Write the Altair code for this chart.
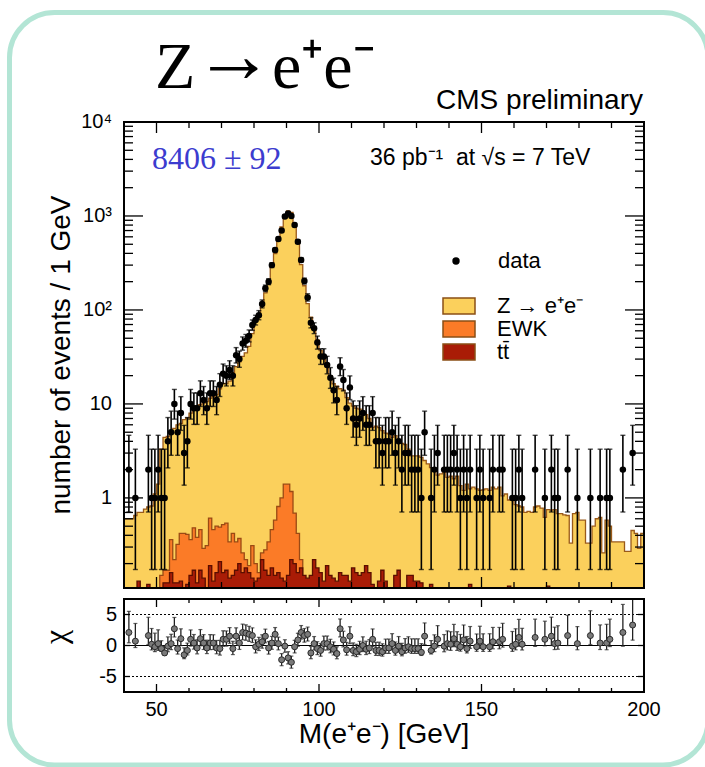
import altair as alt
import numpy as np
import pandas as pd

# ---------------- data ----------------
bin_low = list(range(40, 200))  # 1 GeV bins, lower edges

data_counts = [
    0, 2, 0, 1, 0, 0, 0, 2, 1, 1,
    2, 1, 1, 4, 5, 10, 5, 8, 3, 4,
    10, 9, 9, 13, 11, 9, 13, 13, 11, 16,
    21, 20, 23, 20, 33, 30, 44, 47, 53, 69,
    78, 88, 116, 170, 200, 300, 434, 570, 700, 985,
    1065, 1000, 803, 533, 341, 203, 136, 73, 64, 45,
    32, 32, 26, 19, 14, 11, 25, 18, 9, 15,
    7, 6, 7, 8, 6, 6, 8, 4, 4, 3,
    4, 4, 5, 3, 4, 2, 3, 3, 2, 2,
    2, 1, 5, 0, 1, 2, 3, 0, 2, 2,
    2, 3, 2, 1, 2, 1, 2, 0, 1, 2,
    1, 0, 1, 2, 0, 2, 2, 0, 0, 1,
    1, 2, 1, 0, 0, 0, 2, 0, 0, 1,
    0, 2, 1, 1, 0, 0, 2, 0, 0, 1,
    0, 0, 0, 1, 0, 0, 1, 0, 1, 1,
    0, 0, 0, 2, 0, 0, 3, 0, 0, 0,
]

# top of the stacked MC (Z->ee + EWK + ttbar)
mc_total = [
    0.60, 0.60, 0.60, 0.65, 0.70, 0.70, 0.76, 0.80, 0.82, 1.10,
    1.40, 3.3, 4.4, 4.5, 5.0, 5.5, 6.0, 6.2, 6.8, 7.1,
    8.0, 9.0, 9.6, 9.8, 10.2, 10.6, 11.5, 12.0, 12.6, 14.5,
    16.5, 16.5, 17.5, 21.5, 25.0, 28.0, 32.0, 35.0, 41.0, 56.0,
    78, 86, 110, 152, 205, 293, 398, 563, 763, 988,
    1130, 1089, 809, 512, 304, 181, 117, 84, 62, 48,
    37, 30, 24.5, 20, 16.4, 15.5, 14.5, 14.0, 11.7, 10.2,
    9.5, 9.0, 8.8, 8.0, 7.7, 7.0, 5.6, 5.8, 5.6, 5.2,
    4.9, 4.8, 4.4, 4.6, 4.2, 3.8, 3.7, 3.3, 2.8, 2.8,
    2.8, 2.7, 2.5, 2.3, 2.1, 2.1, 1.75, 1.8, 2.0, 1.65,
    1.7, 1.6, 1.7, 1.35, 1.2, 1.4, 1.25, 1.3, 1.25, 1.2,
    1.22, 1.25, 1.2, 1.3, 1.25, 1.3, 1.05, 1.1, 0.95, 0.95,
    0.85, 0.82, 0.80, 0.70, 0.72, 0.70, 0.80, 0.82, 0.78, 0.62,
    0.75, 0.74, 0.75, 0.68, 0.68, 0.66, 0.65, 0.33, 0.68, 0.70,
    0.58, 0.58, 0.33, 0.33, 0.50, 0.60, 0.62, 0.26, 0.58, 0.50,
    0.34, 0.34, 0.34, 0.34, 0.27, 0.27, 0.45, 0.42, 0.29, 0.42,
]

# top of EWK + ttbar
mc_ewk_tt = [
    0, 0, 0, 0, 0, 0, 0, 0, 0, 0,
    0, 0.15, 0.17, 0.17, 0.36, 0.22, 0.32, 0.42, 0.42, 0.41,
    0.36, 0.48, 0.38, 0.46, 0.29, 0.31, 0.61, 0.46, 0.50, 0.49,
    0.52, 0.54, 0.34, 0.42, 0.34, 0.37, 0.26, 0.22, 0.19, 0.31,
    0.20, 0.16, 0.26, 0.28, 0.34, 0.46, 0.58, 0.81, 1.00, 1.40,
    1.40, 1.17, 0.69, 0.42, 0.22, 0, 0, 0, 0, 0,
] + [0] * 100

# ttbar alone
mc_tt = [
    0, 0, 0, 0, 0.13, 0, 0, 0.12, 0, 0,
    0, 0, 0.125, 0.125, 0.16, 0.125, 0.125, 0.13, 0, 0.12,
    0.15, 0.17, 0.125, 0.17, 0.14, 0, 0.19, 0.13, 0.16, 0.21,
    0.16, 0.17, 0.14, 0.15, 0.17, 0.20, 0.16, 0.18, 0.16, 0.14,
    0.13, 0.14, 0.22, 0.17, 0.15, 0.18, 0.15, 0.16, 0.14, 0.13,
    0.15, 0.22, 0.20, 0.16, 0.18, 0.15, 0.14, 0.15, 0.22, 0.18,
    0.16, 0.13, 0.19, 0.15, 0.14, 0.13, 0.16, 0.15, 0.15, 0.13,
    0.18, 0.16, 0.15, 0.16, 0.19, 0.16, 0.12, 0, 0.13, 0.17,
    0.13, 0, 0, 0.15, 0.17, 0, 0, 0.15, 0.15, 0.13,
    0.13, 0.125, 0, 0, 0.12, 0, 0, 0, 0, 0,
    0, 0, 0, 0, 0, 0, 0.12, 0, 0, 0,
    0, 0, 0, 0, 0, 0, 0, 0, 0.115, 0,
    0, 0, 0, 0, 0, 0, 0, 0, 0, 0,
    0.115, 0, 0, 0, 0, 0, 0, 0, 0, 0,
    0, 0, 0, 0, 0, 0, 0, 0, 0, 0,
    0, 0, 0, 0, 0, 0, 0, 0, 0, 0,
]

N = None
chi_values = [
    N, 2.1, N, 0.7, N, N, N, 1.6, 0.2, -0.2,
    0.3, -0.5, -1.2, -0.1, 0.3, 2.7, -0.5, 1.1, -1.5, -0.8,
    1.0, 0.4, -0.4, 1.1, 0.4, -0.4, 0.4, 0.4, -0.4, -0.5,
    1.0, 1.0, 1.5, -0.5, 1.5, 0.4, 2.1, 2.0, 1.8, 1.6,
    -0.2, 0.2, 0.6, 1.5, -0.4, 0.4, 1.8, 0.3, -2.3, -0.1,
    -2.0, -2.7, -0.2, 0.9, 2.1, 1.6, 1.8, -1.2, 0.3, -0.5,
    -0.8, 0.3, 0.3, -0.2, -0.6, -1.3, 2.7, 0.9, -0.7, 1.5,
    -0.8, -1.0, -0.6, 0.0, -0.6, -0.4, 1.0, -0.8, -0.8, -1.0,
    -0.4, -0.4, 0.3, -0.8, -0.1, -1.0, -0.4, -0.2, -0.5, -0.5,
    -0.5, -1.1, 1.5, N, -0.8, -0.1, 1.0, N, -0.1, 0.3,
    0.2, 1.1, 0.2, -0.2, 0.9, -0.5, 0.7, N, -0.2, 0.7,
    -0.2, N, -0.2, 0.6, N, 0.6, 1.0, N, N, -0.1,
    0.2, 1.3, 0.2, N, N, N, 1.3, N, N, 1.0,
    N, 1.5, 0.3, 0.4, N, N, 1.6, N, N, 0.3,
    N, N, N, 1.6, N, N, 0.4, N, 0.4, 1.0,
    N, N, N, 2.1, N, N, 3.3, N, N, N,
]

# Poisson (Garwood 68%) interval limits for small counts
garwood_lo = [0.0, 0.173, 0.708, 1.367, 2.086, 2.840, 3.620, 4.419, 5.232, 6.057, 6.891]
garwood_hi = [1.841, 3.300, 4.638, 5.918, 7.163, 8.382, 9.584, 10.77, 11.95, 13.11, 14.27]

process_names = ["Z \u2192 e\u207ae\u207b", "EWK", "tt\u0304"]
process_colors = ["#fbd05c", "#fb7b27", "#a91c06"]
outline_colors = ["#9a5a1a", "#9a4a14", "#5a0e00"]

x_major_ticks = [50, 100, 150, 200]
x_tick_labels = ["50", "100", "150", "200"]
x_minor_ticks = [40, 60, 70, 80, 90, 110, 120, 130, 140, 160, 170, 180, 190]
y_decade_ticks = [1, 10, 100, 1000, 10000]
y_tick_labels = ["1", "10", "10\u00b2", "10\u00b3", "10\u2074"]
y_minor_ticks = [m * d for d in [0.1, 1, 10, 100, 1000] for m in range(2, 10)]
chi_tick_values = [-5, 0, 5]
chi_tick_labels = ["-5", "0", "5"]

# ---------------- geometry ----------------
W = 520          # plot width
H_MAIN = 466     # main panel height
CHI_TOP = 477    # top of ratio panel
H_ALL = 570      # bottom of ratio panel
FONT = "Liberation Sans"
SERIF = "Liberation Serif"

XS = alt.Scale(domain=[40, 200], nice=False, zero=False)
YS = alt.Scale(type="log", domain=[0.11, 10000], range=[H_MAIN, 0], clamp=True, nice=False)
CS = alt.Scale(domain=[-7.5, 7.5], range=[H_ALL, CHI_TOP], clamp=True, nice=False, zero=False)

# ---------------- frames ----------------
edges = bin_low + [200]


def step_frame(vals, name):
    v = list(vals) + [vals[-1]]
    return pd.DataFrame({"edge": edges, "val": np.maximum(np.array(v, dtype=float), 0.05), "proc": name})


hist_frames = [step_frame(mc_total, process_names[0]),
               step_frame(mc_ewk_tt, process_names[1]),
               step_frame(mc_tt, process_names[2])]

n_arr = np.array(data_counts)
mc_arr = np.array(mc_total, dtype=float)
chi_arr = np.array([np.nan if c is None else c for c in chi_values], dtype=float)
lo_arr = np.array([garwood_lo[k] if k <= 10 else k - np.sqrt(k) for k in n_arr])
hi_arr = np.array([garwood_hi[k] if k <= 10 else k + np.sqrt(k) + 1 for k in n_arr])
mask = n_arr > 0
pts = pd.DataFrame({
    "m": (np.array(bin_low) + 0.5)[mask],
    "n": n_arr[mask],
    "lo": lo_arr[mask],
    "hi": hi_arr[mask],
    "chi": chi_arr[mask],
    "kind": "data",
})
sig = np.sqrt(mc_arr[mask])
pts["chi_lo"] = pts["chi"] - (pts["n"] - pts["lo"]) / sig
pts["chi_hi"] = pts["chi"] + (pts["hi"] - pts["n"]) / sig

color_scale = alt.Scale(domain=process_names, range=process_colors)
color_legend = alt.Legend(title=None, orient="none", legendX=324, legendY=173, direction="vertical",
                          symbolType="M-2,-1H2V1H-2Z", symbolSize=256, symbolStrokeColor="#8a4f16",
                          symbolStrokeWidth=1.5, symbolOpacity=1, labelFont=FONT, labelFontSize=22,
                          labelColor="black", labelOffset=27, rowPadding=1, padding=0, labelLimit=400)
shape_legend = alt.Legend(title=None, orient="none", legendX=321, legendY=128,
                          symbolSize=55, symbolFillColor="black", symbolStrokeColor="black",
                          symbolStrokeWidth=0, labelFont=FONT, labelFontSize=22, labelColor="black",
                          labelOffset=31, padding=0)


def X(field):
    return alt.X(field, type="quantitative", scale=XS, axis=None)


main_layers = []
for i, (df, oc) in enumerate(zip(hist_frames, outline_colors)):
    area = alt.Chart(df).mark_area(interpolate="step-after", opacity=1).encode(
        x=X("edge"),
        y=alt.Y("val:Q", scale=YS, axis=None),
        y2=alt.value(H_MAIN),
        color=alt.Color("proc:N", scale=color_scale, legend=color_legend if i == 0 else None),
    )
    line = alt.Chart(df).mark_line(interpolate="step-after", color=oc, strokeWidth=1.3).encode(
        x=X("edge"), y=alt.Y("val:Q", scale=YS, axis=None))
    main_layers += [area, line]

err = alt.Chart(pts).mark_rule(color="black", strokeWidth=1.6).encode(
    x=X("m"), y=alt.Y("lo:Q", scale=YS, axis=None), y2="hi:Q")
cap_lo = alt.Chart(pts).mark_tick(orient="horizontal", color="black", size=5, thickness=1.4).encode(
    x=X("m"), y=alt.Y("lo:Q", scale=YS, axis=None))
cap_hi = alt.Chart(pts).mark_tick(orient="horizontal", color="black", size=5, thickness=1.4).encode(
    x=X("m"), y=alt.Y("hi:Q", scale=YS, axis=None))
dots = alt.Chart(pts).mark_point(filled=True, color="black", size=42, opacity=1).encode(
    x=X("m"), y=alt.Y("n:Q", scale=YS, axis=None),
    shape=alt.Shape("kind:N", scale=alt.Scale(domain=["data"], range=["circle"]), legend=shape_legend))
main_layers += [err, cap_lo, cap_hi, dots]

tick_style = dict(color="black", strokeWidth=1.3)


def xticks(values, y_a, y_b):
    return alt.Chart(pd.DataFrame({"v": values})).mark_rule(**tick_style).encode(
        x=X("v"), y=alt.value(y_a), y2=alt.value(y_b))


def yticks(values, scale, x_a, x_b):
    return alt.Chart(pd.DataFrame({"v": values})).mark_rule(**tick_style).encode(
        y=alt.Y("v:Q", scale=scale, axis=None), x=alt.value(x_a), x2=alt.value(x_b))


# inward ticks of the main panel
main_layers += [
    xticks(x_major_ticks, 0, 11), xticks(x_minor_ticks, 0, 6),
    xticks(x_major_ticks, H_MAIN, H_MAIN - 11), xticks(x_minor_ticks, H_MAIN, H_MAIN - 6),
    yticks(y_decade_ticks, YS, 0, 19), yticks(y_minor_ticks, YS, 0, 9),
    yticks(y_decade_ticks, YS, W, W - 19), yticks(y_minor_ticks, YS, W, W - 9),
]

# y tick labels of the main panel (placed through the log scale)
main_layers.append(alt.Chart(pd.DataFrame({"v": y_decade_ticks, "t": y_tick_labels})).mark_text(
    font=FONT, fontSize=20, align="right", baseline="middle", color="black").encode(
    y=alt.Y("v:Q", scale=YS, axis=None), x=alt.value(-12), text="t:N"))

one = pd.DataFrame({"a": [0]})
main_layers.append(alt.Chart(one).mark_rect(fillOpacity=0, stroke="black", strokeWidth=2).encode(
    x=alt.value(0), x2=alt.value(W), y=alt.value(0), y2=alt.value(H_MAIN)))


def label(text, x, y, size, font=FONT, align="left", color="black", angle=0):
    return alt.Chart(pd.DataFrame({"t": [text]})).mark_text(
        font=font, fontSize=size, align=align, baseline="alphabetic", color=color, angle=angle).encode(
        x=alt.value(x), y=alt.value(y), text="t:N")


main_layers += [
    label("Z", 31, -34, 66, font=SERIF),
    label("\u2192", 70, -40, 80, font=SERIF),
    label("e\u207ae\u207b", 148, -34, 66, font=SERIF),
    label("CMS preliminary", W - 1, -13, 28, align="right"),
    label("8406 \u00b1 92", 28, 47, 32, font=SERIF, color="#3c3ccf"),
    label("36 pb\u207b\u00b9\u00a0\u00a0at\u00a0\u221as = 7 TeV", 246, 43, 23),
    label("number of events / 1 GeV", -54, H_MAIN / 2, 28, align="center", angle=270),
]

# outer rounded frame
main_layers.append(alt.Chart(one).mark_rect(fillOpacity=0, stroke="#b3e5d5", strokeWidth=5,
                                            cornerRadius=45).encode(
    x=alt.value(-114.5), x2=alt.value(584), y=alt.value(-109.5), y2=alt.value(643)))

main = alt.layer(*main_layers)

# ---------------- chi panel ----------------
chi_pts = pts.dropna(subset=["chi"])
chi_layers = []
ref = pd.DataFrame({"v": [0.0]})
refd = pd.DataFrame({"v": [-5.0, 5.0]})
chi_layers.append(alt.Chart(ref).mark_rule(color="black", strokeWidth=1).encode(
    y=alt.Y("v:Q", scale=CS, axis=None), x=alt.value(0), x2=alt.value(W)))
chi_layers.append(alt.Chart(refd).mark_rule(color="black", strokeWidth=1, strokeDash=[2, 2]).encode(
    y=alt.Y("v:Q", scale=CS, axis=None), x=alt.value(0), x2=alt.value(W)))
chi_layers.append(alt.Chart(chi_pts).mark_rule(color="#222222", strokeWidth=1.3).encode(
    x=X("m"), y=alt.Y("chi_lo:Q", scale=CS, axis=None), y2="chi_hi:Q"))
for f in ("chi_lo", "chi_hi"):
    chi_layers.append(alt.Chart(chi_pts).mark_tick(orient="horizontal", color="#222222", size=4,
                                                   thickness=1.2).encode(
        x=X("m"), y=alt.Y(f + ":Q", scale=CS, axis=None)))
chi_layers.append(alt.Chart(chi_pts).mark_point(filled=True, fill="#7a7a7a", stroke="#2a2a2a",
                                                strokeWidth=1, size=36, opacity=1, shape="circle").encode(
    x=X("m"), y=alt.Y("chi:Q", scale=CS, axis=None)))

chi_layers += [
    xticks(x_major_ticks, CHI_TOP, CHI_TOP + 8), xticks(x_minor_ticks, CHI_TOP, CHI_TOP + 4),
    xticks(x_major_ticks, H_ALL, H_ALL - 8), xticks(x_minor_ticks, H_ALL, H_ALL - 4),
    yticks(chi_tick_values, CS, 0, 6), yticks(chi_tick_values, CS, W, W - 6),
]
chi_layers.append(alt.Chart(one).mark_rect(fillOpacity=0, stroke="black", strokeWidth=2).encode(
    x=alt.value(0), x2=alt.value(W), y=alt.value(CHI_TOP), y2=alt.value(H_ALL)))

# chi tick labels, x tick labels and titles
chi_layers.append(alt.Chart(pd.DataFrame({"v": chi_tick_values, "t": chi_tick_labels})).mark_text(
    font=FONT, fontSize=20, align="right", baseline="middle", color="black").encode(
    y=alt.Y("v:Q", scale=CS, axis=None), x=alt.value(-7), text="t:N"))
chi_layers.append(alt.Chart(pd.DataFrame({"v": x_major_ticks, "t": x_tick_labels})).mark_text(
    font=FONT, fontSize=20, align="center", baseline="alphabetic", color="black").encode(
    x=X("v"), y=alt.value(H_ALL + 24), text="t:N"))
chi_layers += [
    label("M(e\u207ae\u207b) [GeV]", W / 2, H_ALL + 51, 28, align="center"),
    label("\u03c7", -58, 515, 32, font=SERIF, align="center", angle=270),
]

chi_panel = alt.layer(*chi_layers)

chart = alt.layer(main, chi_panel).resolve_scale(y="independent").properties(
    width=W, height=H_ALL,
    autosize=alt.AutoSizeParams(type="none"),
    padding={"left": 124, "top": 122, "right": 705 - 124 - W, "bottom": 767 - 122 - H_ALL},
    background="white",
).configure_view(stroke=None)

chart.save("out.html", embed_options={"renderer": "svg", "actions": False})
